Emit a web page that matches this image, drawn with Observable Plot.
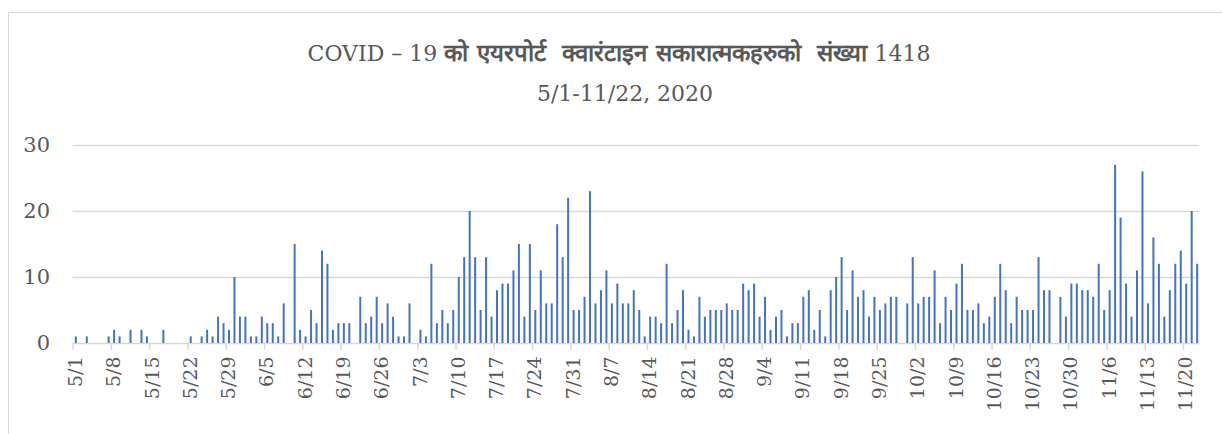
<!DOCTYPE html>
<html>
<head>
<meta charset="utf-8">
<script src="https://cdn.jsdelivr.net/npm/d3@7"></script>
<script src="https://cdn.jsdelivr.net/npm/@observablehq/plot@0.6"></script>
<style>
  html, body { margin: 0; padding: 0; background: #fff; overflow: hidden; }
  #frame {
    position: absolute; left: 8px; top: 12px; width: 1300px; height: 500px;
    border-left: 1px solid #d9d9d9; border-top: 1px solid #d9d9d9;
  }
  .t {
    position: absolute; left: 8px; width: 1222px; text-align: center;
    font-family: "DejaVu Serif", "Liberation Serif", serif; color: #595959;
    font-size: 22px; line-height: 1;
  }
  .dev { font-size: 24px; font-weight: 600; }
  #chart { position: absolute; left: 0; top: 115px; }
</style>
</head>
<body>
<div id="frame"></div>
<div class="t" id="title" style="top:41px">COVID – 19 <span class="dev">को एयरपोर्ट &nbsp;क्वारंटाइन सकारात्मकहरुको &nbsp;संख्या</span> 1418</div>
<div class="t" id="subtitle" style="top:83px; left:14px">5/1-11/22, 2020</div>
<div id="chart"></div>
<script>
// Daily counts starting 2020-05-01 (one value per day through 2020-11-22)
const startDate = "2020-05-01";
const counts = [
  1,0,1,0,0,0,1,2,1,0,2,0,2,1,0,0,2,0,0,0,0,1,0,1,2,1,4,3,2,
  10,4,4,1,1,4,3,3,1,6,0,15,2,1,5,3,14,12,2,3,3,3,
  0,7,3,4,7,3,6,4,1,1,6,0,2,1,12,3,5,3,5,10,13,20,13,5,13,
  4,8,9,9,11,15,4,15,5,11,6,6,18,13,22,5,5,7,23,6,8,11,6,9,6,
  6,8,5,1,4,4,3,12,3,5,8,2,1,7,4,5,5,5,6,5,5,9,8,9,4,
  7,2,4,5,1,3,3,7,8,2,5,1,8,10,13,5,11,7,8,4,7,5,6,7,7,
  0,6,13,6,7,7,11,3,7,5,9,12,5,5,6,3,4,7,12,8,3,7,5,5,5,
  13,8,8,0,7,4,9,9,8,8,7,12,5,8,27,19,9,4,11,26,6,16,12,4,8,12,14,9,20,12
];
const yTicks = [0, 10, 20, 30];
const tickEveryDays = 7;

const start = new Date(startDate + "T00:00:00Z");
const data = counts.map((v, i) => ({ date: d3.utcDay.offset(start, i), value: v }));
const end = data[data.length - 1].date;
const halfDay = 12 * 3600 * 1000;
const labelDates = d3.utcDay.every(1).range(start, d3.utcDay.offset(end, 1)).filter((d, i) => i % tickEveryDays === 0);
const tickDates = labelDates.map(d => new Date(+d - halfDay));
const fmt = d => `${d.getUTCMonth() + 1}/${d.getUTCDate()}`;

const font = "DejaVu Serif, Liberation Serif, serif";
const chart = Plot.plot({
  width: 1222,
  height: 319,
  marginLeft: 72.6,
  marginRight: 22.6,
  marginTop: 30,
  marginBottom: 91,
  style: { fontFamily: font, color: "#595959", background: "transparent" },
  x: { type: "utc", domain: [new Date(+start - halfDay), new Date(+end + halfDay)] },
  y: { domain: [0, 30] },
  marks: [
    Plot.ruleY([10, 20, 30], { stroke: "#d9d9d9", strokeWidth: 1.5 }),
    Plot.ruleY([0], { stroke: "#d9d9d9", strokeWidth: 1.5 }),
    Plot.axisX({ ticks: tickDates, tickFormat: () => "", tickSize: 7, stroke: "#d9d9d9", strokeWidth: 1.5, label: null }),
    Plot.axisX({ ticks: labelDates, tickFormat: fmt, tickSize: 0, tickPadding: 13, tickRotate: -90,
                 fontSize: 19, fill: "#595959", label: null }),
    Plot.axisY({ ticks: yTicks, tickSize: 0, tickPadding: 23, fontSize: 21, fill: "#595959", label: null }),
    Plot.ruleX(data, { x: "date", y: "value", stroke: "#4472C4", strokeWidth: 2 })
  ]
});
document.getElementById("chart").appendChild(chart);
</script>
</body>
</html>
